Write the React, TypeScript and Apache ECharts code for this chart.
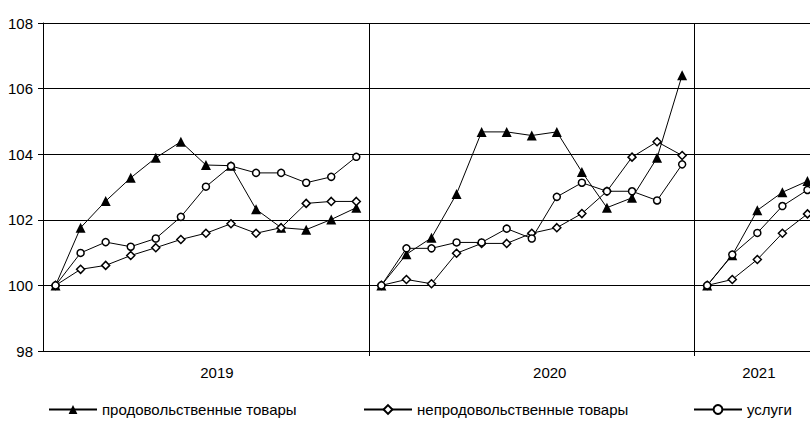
import React, { useEffect, useRef } from "react";
import * as echarts from "echarts";

const years = ["2019", "2020", "2021"];
const pointsPerYear = [13, 13, 5];

const seriesNames = [
  "продовольственные товары",
  "непродовольственные товары",
  "услуги",
];

// продовольственные товары
const food2019 = [100, 101.76, 102.57, 103.28, 103.89, 104.38, 103.67, 103.65, 102.32, 101.76, 101.7, 102.01, 102.37];
const food2020 = [100, 100.95, 101.45, 102.79, 104.68, 104.68, 104.57, 104.68, 103.46, 102.37, 102.67, 103.89, 106.41];
const food2021 = [100, 100.92, 102.29, 102.84, 103.18];

// непродовольственные товары
const nonfood2019 = [100, 100.49, 100.61, 100.91, 101.15, 101.4, 101.59, 101.88, 101.59, 101.76, 102.5, 102.56, 102.56];
const nonfood2020 = [100, 100.18, 100.05, 100.98, 101.28, 101.28, 101.59, 101.76, 102.19, 102.87, 103.91, 104.38, 103.96];
const nonfood2021 = [100, 100.18, 100.79, 101.59, 102.18];

// услуги
const services2019 = [100, 100.99, 101.32, 101.18, 101.43, 102.09, 103.01, 103.64, 103.43, 103.43, 103.13, 103.31, 103.92];
const services2020 = [100, 101.13, 101.13, 101.31, 101.31, 101.73, 101.43, 102.7, 103.13, 102.87, 102.87, 102.59, 103.69];
const services2021 = [100, 100.94, 101.6, 102.42, 102.91];

const yTicks = { min: 98, max: 108, interval: 2 };

const FONT = "'Liberation Sans', Arial, sans-serif";

export default function App() {
  const ref = useRef<HTMLDivElement>(null);

  useEffect(() => {
    if (!ref.current) return;
    const chart = echarts.init(ref.current, undefined, { renderer: "svg" });

    const categories: string[] = [];
    const offsets: number[] = [];
    years.forEach((y, k) => {
      offsets.push(categories.length);
      for (let j = 0; j < pointsPerYear[k]; j++) categories.push(`${y}-${j}`);
    });
    const total = categories.length;

    const byType = [
      [food2019, food2020, food2021],
      [nonfood2019, nonfood2020, nonfood2021],
      [services2019, services2020, services2021],
    ];
    const symbols = ["triangle", "diamond", "circle"];
    const sizes = [10, 8, 7];
    const fills = ["#000", "#fff", "#fff"];

    const series: any[] = [];
    byType.forEach((yearArrs, t) => {
      yearArrs.forEach((vals, k) => {
        const data: (number | null)[] = new Array(total).fill(null);
        vals.forEach((v, j) => {
          data[offsets[k] + j] = v;
        });
        series.push({
          name: seriesNames[t],
          type: "line",
          data,
          symbol: symbols[t],
          symbolSize: sizes[t],
          showAllSymbol: true,
          connectNulls: false,
          lineStyle: { color: "#000", width: 1 },
          itemStyle: { color: fills[t], borderColor: "#000", borderWidth: t === 0 ? 0 : 1.5 },
          z: 2 + t,
        });
      });
    });

    const labelIdx: Record<number, string> = {};
    labelIdx[offsets[0] + 6] = "a";
    labelIdx[offsets[1] + 6] = "b";
    labelIdx[offsets[2] + 2] = "c";

    const legendLefts = [48, 363, 693];

    chart.setOption({
      animation: false,
      backgroundColor: "#fff",
      textStyle: { fontFamily: FONT, color: "#000" },
      grid: { left: 43, right: 10, top: 23, bottom: 82, containLabel: false },
      legend: seriesNames.map((n, i) => ({
        data: [n],
        left: legendLefts[i],
        top: 402,
        padding: 0,
        itemWidth: 48,
        itemHeight: 11,
        itemGap: 5,
        selectedMode: false,
        textStyle: { fontFamily: FONT, fontSize: 15, color: "#000" },
      })),
      xAxis: {
        type: "category",
        data: categories,
        boundaryGap: true,
        axisLine: { show: true, lineStyle: { color: "#000", width: 1 } },
        axisTick: {
          show: true,
          length: 5,
          interval: (i: number) => i === offsets[1] || i === offsets[2],
          lineStyle: { color: "#000" },
        },
        splitLine: {
          show: true,
          interval: (i: number) => i === offsets[1] || i === offsets[2],
          lineStyle: { color: "#000", width: 1 },
        },
        axisLabel: {
          interval: (i: number) => labelIdx[i] !== undefined,
          margin: 14,
          fontFamily: FONT,
          fontSize: 15,
          color: "#000",
          formatter: (v: string, i: number) => {
            const key = labelIdx[i];
            return key ? `{${key}|${v.split("-")[0]}}` : "";
          },
          rich: {
            a: { fontFamily: FONT, fontSize: 15, color: "#000", padding: [0, 0, 0, 22] },
            b: { fontFamily: FONT, fontSize: 15, color: "#000", padding: [0, 0, 0, 36] },
            c: { fontFamily: FONT, fontSize: 15, color: "#000", padding: [0, 0, 0, 3] },
          },
        },
      },
      yAxis: {
        type: "value",
        min: yTicks.min,
        max: yTicks.max,
        interval: yTicks.interval,
        axisLine: { show: true, lineStyle: { color: "#000", width: 1 } },
        axisTick: { show: true, length: 5, lineStyle: { color: "#000" } },
        splitLine: { show: true, lineStyle: { color: "#000", width: 1 } },
        axisLabel: { margin: 10, fontFamily: FONT, fontSize: 15, color: "#000" },
      },
      series,
    });

    return () => chart.dispose();
  }, []);

  return (
    <div
      style={{
        position: "fixed",
        left: 0,
        top: 0,
        width: 810,
        height: 433,
        overflow: "hidden",
        background: "#fff",
      }}
    >
      <div ref={ref} style={{ width: 830, height: 433 }} />
    </div>
  );
}
